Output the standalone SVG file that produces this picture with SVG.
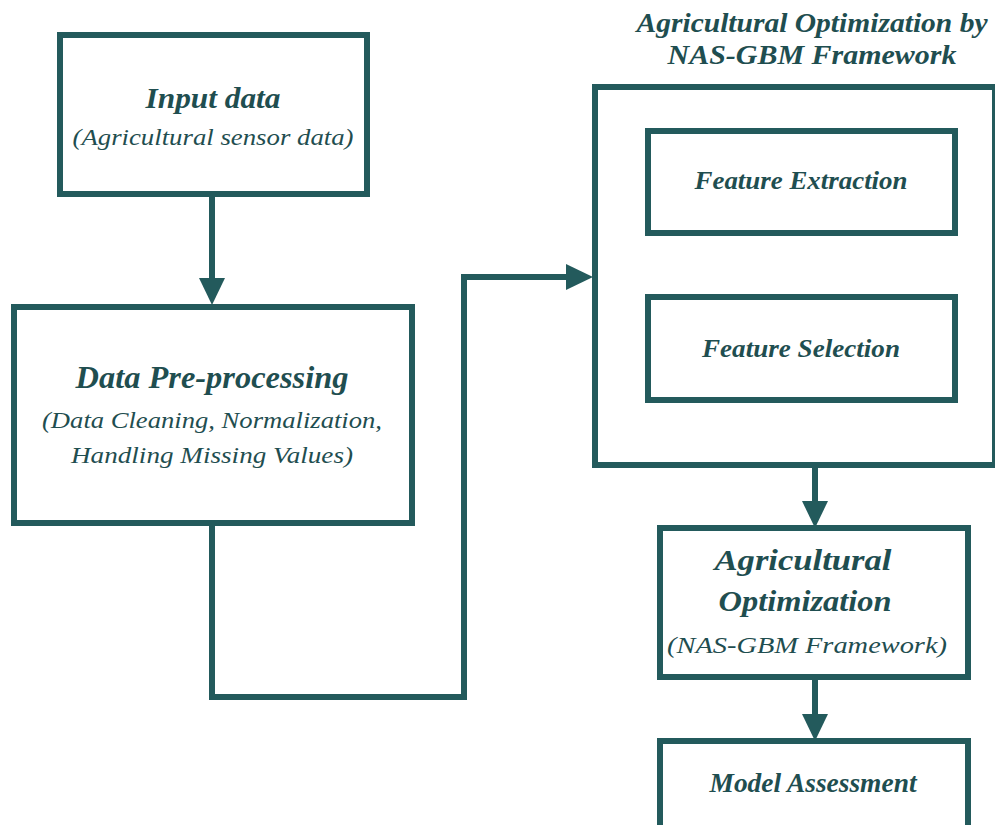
<svg xmlns="http://www.w3.org/2000/svg" width="995" height="825" viewBox="0 0 995 825">
  <defs>
    <style>
      .box { fill: #ffffff; stroke: #235a5c; stroke-width: 6; stroke-linejoin: miter; }
      .link { fill: none; stroke: #235a5c; stroke-width: 6; stroke-linejoin: miter; marker-end: url(#head); }
      .t { font-family: "Liberation Serif", "Times New Roman", serif; fill: #1f4e50; text-anchor: middle; }
      .bi { font-weight: bold; font-style: italic; }
      .it { font-style: italic; }
    </style>
    <marker id="head" markerUnits="userSpaceOnUse" markerWidth="30" markerHeight="30" refX="0" refY="13" orient="auto">
      <path d="M0,0 L27,13 L0,26 Z" fill="#235a5c"/>
    </marker>
  </defs>

  <rect width="995" height="825" fill="#ffffff"/>

  <!-- connectors -->
  <g id="connectors">
    <path class="link" d="M212,197 V278"/>
    <path class="link" d="M212,526 V697 H464 V277 H566"/>
    <path class="link" d="M815,468 V501"/>
    <path class="link" d="M815,680 V714"/>
  </g>

  <g id="input-data">
    <rect class="box" x="60" y="35" width="307" height="159"/>
    <text class="t bi" x="213" y="108" font-size="30" textLength="135" lengthAdjust="spacingAndGlyphs">Input data</text>
    <text class="t it" x="213" y="145" font-size="24" textLength="281" lengthAdjust="spacingAndGlyphs">(Agricultural sensor data)</text>
  </g>

  <g id="data-preprocessing">
    <rect class="box" x="14" y="307" width="398" height="216"/>
    <text class="t bi" x="212" y="388" font-size="31" textLength="273" lengthAdjust="spacingAndGlyphs">Data Pre-processing</text>
    <text class="t it" x="212" y="428" font-size="24" textLength="340" lengthAdjust="spacingAndGlyphs">(Data Cleaning, Normalization,</text>
    <text class="t it" x="212" y="463" font-size="24" textLength="282" lengthAdjust="spacingAndGlyphs">Handling Missing Values)</text>
  </g>

  <g id="nas-gbm-framework">
    <text class="t bi" x="812" y="32" font-size="28" textLength="351" lengthAdjust="spacingAndGlyphs">Agricultural Optimization by</text>
    <text class="t bi" x="812" y="64" font-size="28" textLength="289" lengthAdjust="spacingAndGlyphs">NAS-GBM Framework</text>
    <rect class="box" x="595" y="87" width="400" height="378"/>
  </g>

  <g id="feature-extraction">
    <rect class="box" x="648" y="131" width="307" height="102"/>
    <text class="t bi" x="801" y="189" font-size="26" textLength="213" lengthAdjust="spacingAndGlyphs">Feature Extraction</text>
  </g>

  <g id="feature-selection">
    <rect class="box" x="648" y="297" width="307" height="103"/>
    <text class="t bi" x="801" y="357" font-size="26" textLength="198" lengthAdjust="spacingAndGlyphs">Feature Selection</text>
  </g>

  <g id="agricultural-optimization">
    <rect class="box" x="660" y="528" width="308" height="149"/>
    <text class="t bi" x="803" y="570" font-size="30" textLength="177" lengthAdjust="spacingAndGlyphs">Agricultural</text>
    <text class="t bi" x="805" y="611" font-size="30" textLength="173" lengthAdjust="spacingAndGlyphs">Optimization</text>
    <text class="t it" x="807" y="653" font-size="24" textLength="280" lengthAdjust="spacingAndGlyphs">(NAS-GBM Framework)</text>
  </g>

  <g id="model-assessment">
    <rect class="box" x="660" y="741" width="308" height="100"/>
    <text class="t bi" x="813" y="792" font-size="27" textLength="207" lengthAdjust="spacingAndGlyphs">Model Assessment</text>
  </g>
</svg>
